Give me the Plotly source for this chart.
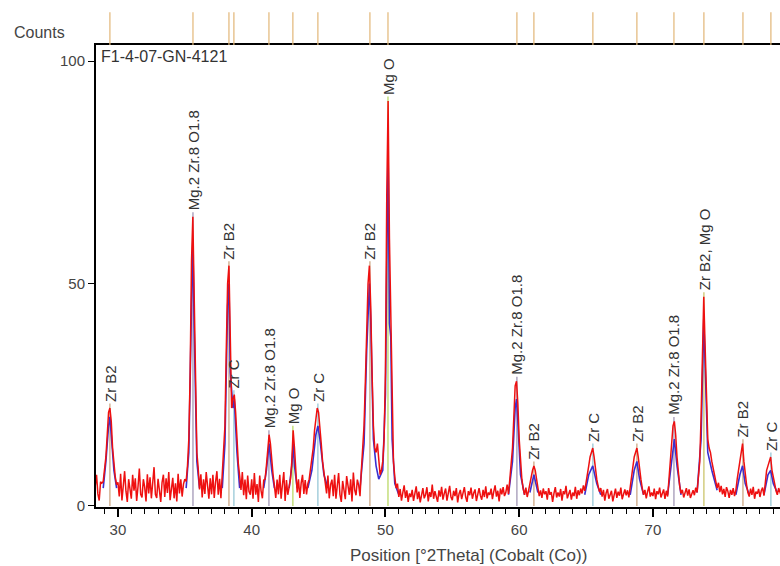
import numpy as np
import plotly.graph_objects as go

# ---------------- data ----------------
# Observed counts, 0.1 deg steps starting at 28.0 deg 2Theta (one row per degree)
red_start = 28.0
red_step = 0.1
red_counts = [
    3.5, 6.2, 1.9, 4.6, 7.0, 2.7, 1.2, 5.4, 5.1, 5.5,   # 28
    8, 11, 16, 21, 22, 19, 13, 9, 6.5, 4.8,             # 29
    5.3, 2.1, 7.2, 1.2, 4.0, 7.8, 3.3, 0.9, 6.0, 4.2,   # 30
    1.6, 7.0, 3.4, 6.2, 1.1, 4.3, 8.4, 2.6, 1.9, 6.0,   # 31
    4.2, 1.0, 7.1, 2.8, 6.4, 1.7, 4.5, 8.7, 2.6, 1.8,   # 32
    6.1, 2.7, 0.9, 5.3, 7.0, 2.0, 6.2, 2.9, 7.6, 1.3,   # 33
    3.9, 6.3, 1.7, 5.1, 1.0, 7.2, 2.8, 6.0, 2.1, 4.9,   # 34
    6.0, 5.5, 9, 15, 30, 55, 65, 46, 24, 12,            # 35
    8.5, 3.7, 7.1, 1.9, 6.0, 2.7, 7.6, 3.5, 1.6, 6.2,   # 36
    2.6, 7.0, 1.8, 5.4, 7.8, 2.5, 6.1, 1.7, 7.0, 12,    # 37
    18, 35, 50, 54, 35, 22, 24, 25, 21, 14,             # 38
    9.5, 6.8, 3.6, 7.6, 2.4, 5.9, 1.5, 6.8, 3.2, 2.5,   # 39
    6.0, 1.6, 7.4, 2.5, 4.9, 0.9, 6.8, 3.4, 1.7, 5.8,   # 40
    6, 9, 13, 16, 14, 10, 7, 4.5, 1.8, 5.9,             # 41
    2.6, 7.0, 1.6, 4.8, 7.6, 1.1, 5.8, 2.5, 4.6, 6,     # 42
    10, 17, 13, 7, 3.0, 6.0, 1.8, 5.1, 7.0, 2.7,        # 43
    5.8, 2.6, 5.0, 6, 8, 10, 13, 17, 20, 22,            # 44
    21, 18, 14, 10, 7.5, 5.8, 2.8, 6.8, 1.7, 4.8,       # 45
    5.9, 2.2, 7.0, 1.6, 4.6, 7.4, 2.5, 0.9, 5.6, 3.4,   # 46
    1.5, 6.7, 4.4, 2.5, 6.0, 1.0, 7.5, 3.6, 2.4, 5.9,   # 47
    4.6, 2.2, 8, 12, 18, 28, 40, 50, 54, 45,            # 48
    30, 18, 13, 12, 14, 10, 7, 8, 10, 15,               # 49
    30, 70, 91, 60, 42, 20, 10, 6.5, 4.0, 5.0,          # 50
    2.0, 3.8, 1.2, 3.0, 4.6, 1.8, 3.5, 0.9, 2.8, 2.0,   # 51
    3.6, 1.1, 2.9, 4.4, 1.5, 3.2, 0.8, 2.6, 4.0, 1.7,   # 52
    2.5, 4.2, 1.0, 3.1, 2.0, 4.8, 1.6, 3.3, 2.2, 0.9,   # 53
    3.5, 2.1, 4.3, 1.4, 2.8, 3.9, 1.2, 3.0, 4.5, 2.0,   # 54
    1.3, 3.4, 2.2, 4.0, 0.8, 2.7, 3.6, 1.5, 3.1, 4.2,   # 55
    2.0, 0.9, 3.3, 2.4, 4.1, 1.6, 2.9, 3.7, 1.1, 2.6,   # 56
    4.0, 2.3, 1.4, 3.6, 2.0, 4.4, 1.7, 3.0, 2.5, 3.9,   # 57
    1.5, 3.2, 4.6, 2.1, 3.4, 1.0, 3.9, 2.6, 4.2, 2.2,   # 58
    3.0, 4.8, 2.7, 6, 9, 13, 20, 27, 28, 23,            # 59
    15, 9, 6, 3.8, 2.5, 4.1, 2.0, 3.4, 5, 7,            # 60
    8, 9, 8, 6, 4.0, 2.2, 3.5, 1.8, 3.9, 2.6,           # 61
    3.3, 1.4, 4.0, 2.5, 3.1, 0.9, 2.8, 4.2, 1.9, 3.0,   # 62
    2.1, 3.8, 1.2, 3.3, 2.6, 4.5, 1.7, 2.9, 3.6, 1.4,   # 63
    3.0, 2.2, 4.3, 1.6, 3.5, 2.4, 3.9, 2.8, 4.6, 3.4,   # 64
    5, 7, 9, 11, 12, 13, 11, 8, 6, 4.5,                 # 65
    3.2, 4.0, 2.1, 3.6, 1.2, 2.9, 3.8, 1.6, 2.7, 3.4,   # 66
    1.0, 2.6, 3.9, 1.8, 3.2, 2.3, 4.1, 1.5, 2.8, 3.7,   # 67
    2.4, 3.5, 1.9, 4.2, 6, 8, 11, 12, 13, 11,           # 68
    8, 6, 4.0, 2.5, 3.6, 1.7, 3.2, 4.4, 2.1, 3.0,       # 69
    2.2, 3.9, 1.5, 3.3, 2.6, 4.1, 1.9, 2.8, 3.7, 1.6,   # 70
    3.4, 2.1, 6, 9, 14, 18, 19, 16, 11, 7,              # 71
    4.5, 2.8, 3.6, 1.9, 3.2, 4.0, 2.3, 3.7, 1.8, 2.9,   # 72
    3.5, 2.4, 4.1, 3.0, 7, 10, 20, 38, 47, 36,          # 73
    22, 15, 13, 12, 10, 8, 7, 5.5, 4.0, 5.2,            # 74
    3.1, 4.5, 2.6, 3.8, 2.0, 4.2, 3.3, 1.8, 3.6, 2.5,   # 75
    4.0, 2.2, 3.5, 6, 8, 10, 12, 14, 10, 7,             # 76
    4.8, 3.0, 2.1, 3.9, 2.5, 4.3, 1.6, 3.2, 2.7, 3.8,   # 77
    2.0, 3.4, 4.1, 2.3, 6, 8, 9, 10, 11, 8,             # 78
    6, 5, 3.4, 2.5, 4.0, 3.1, 2.2, 3.8, 2.9, 3.5,       # 79
]

# Calculated profile (blue), read at key points; None separates peak groups
blue_x = [28.9, 29.1, 29.3, 29.4, 29.5, 29.7, 29.9, None,
          35.1, 35.3, 35.5, 35.6, 35.7, 35.9, 36.1, None,
          37.8, 38.0, 38.2, 38.3, 38.4, 38.6, 38.7, 38.9, 39.1, None,
          40.9, 41.1, 41.3, 41.5, 41.7, None,
          42.8, 43.0, 43.1, 43.2, 43.4, None,
          44.2, 44.5, 44.8, 44.95, 45.1, 45.4, 45.7, None,
          48.1, 48.4, 48.6, 48.8, 48.9, 49.1, 49.3, 49.5, 49.8, 50.0, 50.1, 50.2,
          50.3, 50.4, 50.5, 50.7, 51.0, None,
          59.2, 59.5, 59.7, 59.8, 59.9, 60.1, 60.4, None,
          60.8, 61.1, 61.4, None,
          64.9, 65.2, 65.5, 65.8, 66.1, None,
          68.3, 68.6, 68.8, 69.0, 69.3, None,
          71.1, 71.4, 71.6, 71.8, 72.1, None,
          73.3, 73.6, 73.8, 73.9, 74.1, 74.4, 74.8, None,
          76.2, 76.5, 76.7, 76.9, 77.2, None,
          78.3, 78.6, 78.8, 79.0, 79.3]
blue_y = [4, 10, 18, 20, 16, 8, 4, None,
          4, 12, 45, 60, 40, 10, 4, None,
          4, 14, 45, 50, 30, 22, 24, 12, 4, None,
          4, 8, 14, 8, 4, None,
          4, 9, 14, 9, 4, None,
          4, 8, 16, 18, 15, 7, 4, None,
          4, 14, 35, 50, 42, 15, 9, 6, 8, 25, 55, 80,
          41, 38, 15, 5, 2.5, None,
          2.5, 10, 22, 24, 19, 7, 2.5, None,
          3, 7, 3, None,
          2.5, 7, 9, 5, 2.5, None,
          2.5, 8, 10, 6, 2.5, None,
          2.5, 10, 15, 9, 2.5, None,
          3, 15, 42, 32, 12, 8, 3.5, None,
          2.5, 7, 9, 5, 2.5, None,
          2.5, 7, 8, 5, 3]

# Identified phases / reference line positions
peak_pos = [29.40, 35.61, 38.30, 38.67, 41.29, 43.08, 44.95, 48.84, 50.19,
            59.83, 61.10, 65.51, 68.80, 71.57, 73.81, 76.73, 78.82]
peak_text = ["Zr B2", "Mg.2 Zr.8 O1.8", "Zr B2", "Zr C", "Mg.2 Zr.8 O1.8", "Mg O",
             "Zr C", "Zr B2", "Mg O", "Mg.2 Zr.8 O1.8", "Zr B2", "Zr C", "Zr B2",
             "Mg.2 Zr.8 O1.8", "Zr B2, Mg O", "Zr B2", "Zr C"]

x_ticks = [30, 40, 50, 60, 70]
y_ticks = [0, 50, 100]

# ---------------- figure ----------------
red_y = np.array(red_counts, dtype=float)
red_x = np.round(red_start + red_step * np.arange(len(red_y)), 2)

phase_color = {"Zr B2": "#c9a07a", "Mg.2 Zr.8 O1.8": "#9a8fb0",
               "Zr C": "#8fc3d3", "Mg O": "#b5d65a", "Zr B2, Mg O": "#c8c060"}

fig = go.Figure()

label_y = []
for p in peak_pos:
    win = (red_x >= p - 0.15) & (red_x <= p + 0.15)
    label_y.append(float(red_y[win].max()) + 1.0)

# reference sticks under the data
for p, t, ly in zip(peak_pos, peak_text, label_y):
    fig.add_trace(go.Scatter(x=[p, p], y=[0, ly], mode="lines",
                             line=dict(color=phase_color[t], width=1.2),
                             hoverinfo="skip", showlegend=False))

fig.add_trace(go.Scatter(x=blue_x, y=blue_y, mode="lines", connectgaps=False,
                         line=dict(color="#3a2fd0", width=1.6), showlegend=False))
fig.add_trace(go.Scatter(x=red_x, y=red_y, mode="lines",
                         line=dict(color="#ee1010", width=1.5), showlegend=False))

font_fam = "Liberation Sans, Arial, sans-serif"

for p, t, ly in zip(peak_pos, peak_text, label_y):
    fig.add_annotation(x=p, y=ly, xref="x", yref="y", text=t, textangle=-90,
                       showarrow=False, xanchor="center", yanchor="bottom",
                       font=dict(family=font_fam, size=15, color="#333333"))

# reference markers above the frame
for p in peak_pos:
    fig.add_shape(type="line", xref="x", yref="paper", x0=p, x1=p, y0=1.0, y1=1.071,
                  line=dict(color="#e2b677", width=1.2))

fig.add_annotation(text="Counts", xref="paper", yref="paper", x=-0.082, y=1.026,
                   xanchor="center", yanchor="middle", showarrow=False,
                   font=dict(family=font_fam, size=16, color="#444444"))
fig.add_annotation(text="F1-4-07-GN-4121", xref="paper", yref="paper", x=0, y=1,
                   xshift=3, yshift=-1, xanchor="left", yanchor="top", showarrow=False,
                   font=dict(family=font_fam, size=16, color="#333333"))
fig.add_annotation(text="Position [°2Theta] (Cobalt (Co))", xref="paper", yref="paper",
                   x=0.545, y=-0.106, xanchor="center", yanchor="middle", showarrow=False,
                   font=dict(family=font_fam, size=17, color="#444444"))

fig.update_layout(
    width=780, height=566,
    margin=dict(l=96, r=0, t=45, b=59),
    paper_bgcolor="white", plot_bgcolor="white",
    showlegend=False,
    xaxis=dict(range=[28.36, 79.5], tickvals=x_ticks, ticks="outside", ticklen=8,
               tickwidth=1.5, tickcolor="black", showline=True, linecolor="black",
               linewidth=2, mirror=True, showgrid=False, zeroline=False,
               minor=dict(dtick=1, tick0=0, ticks="outside", ticklen=5,
                          tickcolor="black", tickwidth=1, showgrid=False),
               tickfont=dict(family=font_fam, size=15, color="#444444")),
    yaxis=dict(range=[-0.25, 103.6], tickvals=y_ticks, ticks="outside", ticklen=6,
               tickwidth=1.2, tickcolor="black", showline=True, linecolor="black",
               linewidth=2, showgrid=False, zeroline=False,
               tickfont=dict(family=font_fam, size=15, color="#444444")),
)

fig.write_html("out.html")
